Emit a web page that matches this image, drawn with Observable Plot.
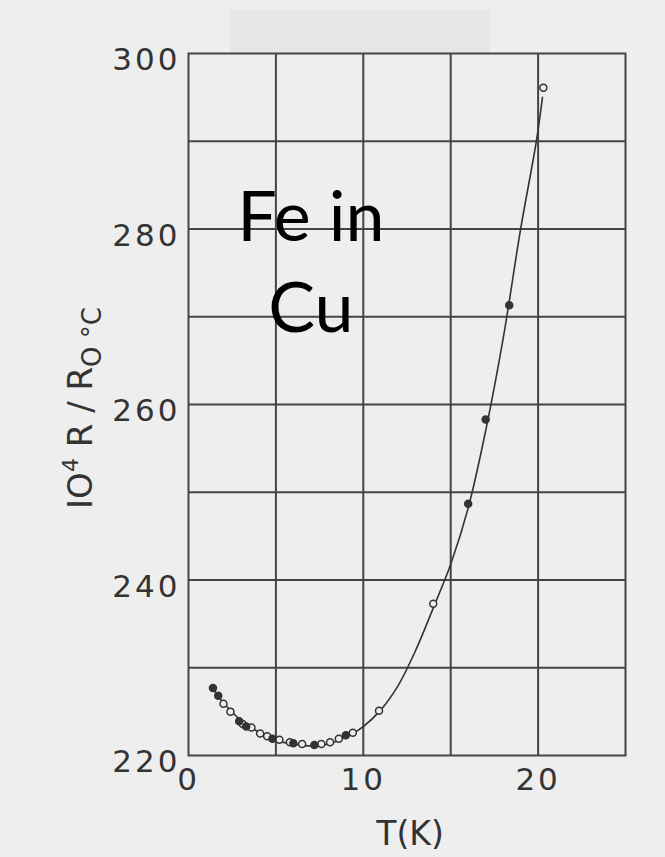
<!DOCTYPE html>
<html>
<head>
<meta charset="utf-8">
<script src="https://cdn.jsdelivr.net/npm/d3@7"></script>
<script src="https://cdn.jsdelivr.net/npm/@observablehq/plot@0.6"></script>
<style>
  html, body { margin: 0; padding: 0; background: #eeeeee; }
  #wrap { position: relative; width: 665px; height: 857px; overflow: hidden; }
  #band { position: absolute; left: 230px; top: 10px; width: 260px; height: 42px; background: #e6e6e6; }
  #chart { position: absolute; left: 0; top: 0; }
</style>
</head>
<body>
<div id="wrap"><div id="band"></div><div id="chart"></div></div>
<script>
// Measured points: temperature T (K) and 10^4 R/R(0 °C)
const openT = [2.0, 3.1, 4.1, 5.8, 6.5, 8.1, 9.4, 10.9, 14.0, 20.3, 2.4, 3.6, 4.5, 5.2, 7.6, 8.6];
const openR = [225.9, 223.6, 222.5, 221.5, 221.3, 221.5, 222.6, 225.1, 237.3, 296.1, 225.0, 223.2, 222.2, 221.8, 221.3, 221.9];
const filledT = [1.4, 1.7, 2.9, 3.3, 4.8, 6.0, 7.2, 9.0, 16.0, 17.0, 18.35];
const filledR = [227.7, 226.8, 223.9, 223.3, 221.9, 221.4, 221.2, 222.3, 248.7, 258.3, 271.3];

// Fitted curve
const curveT = [1.4, 2, 3, 4, 5, 6, 7, 8, 9, 10, 11, 12, 13, 14, 15, 16, 17, 18, 19, 19.9, 20.25];
const curveR = [227.6, 226.0, 224.0, 222.7, 221.7, 221.3, 221.1, 221.3, 222.1, 223.3, 225.2, 228.0, 232.0, 236.8, 241.8, 248.2, 257.0, 267.5, 280.0, 290.0, 295.0];

const xTicks = [0, 10, 20];
const yTicks = [220, 240, 260, 280, 300];
const xGrid = [5, 10, 15, 20];
const yGrid = [230, 240, 250, 260, 270, 280, 290];

const openPts = openT.map((t, i) => ({T: t, R: openR[i]}));
const filledPts = filledT.map((t, i) => ({T: t, R: filledR[i]}));
const curve = curveT.map((t, i) => ({T: t, R: curveR[i]}));

const ink = "#333";

const chart = Plot.plot({
  width: 665,
  height: 857,
  marginLeft: 188,
  marginRight: 40,
  marginTop: 53,
  marginBottom: 102,
  style: {background: "transparent", fontFamily: "DejaVu Sans", color: ink},
  x: {domain: [0, 25]},
  y: {domain: [220, 300]},
  marks: [
    Plot.ruleX(xGrid, {stroke: "#444", strokeWidth: 2}),
    Plot.ruleY(yGrid, {stroke: "#444", strokeWidth: 2}),
    Plot.frame({stroke: "#444", strokeWidth: 2}),
    Plot.axisX({ticks: xTicks, tickSize: 0, tickPadding: 12, fontSize: 31, label: null, tickFormat: d => String(d)}),
    Plot.axisY({ticks: yTicks, tickSize: 0, tickPadding: 8, fontSize: 31, dy: 7, label: null}),
    Plot.line(curve, {x: "T", y: "R", curve: "catmull-rom", stroke: ink, strokeWidth: 1.6}),
    Plot.dot(openPts, {x: "T", y: "R", r: 3.5, stroke: ink, strokeWidth: 1.5, fill: "#eee"}),
    Plot.dot(filledPts, {x: "T", y: "R", r: 3.5, stroke: ink, strokeWidth: 1.5, fill: ink}),
    Plot.text(["Fe in\nCu"], {x: 7.0, y: 276.8, fontSize: 70, lineHeight: 1.31, fill: "#000", fontFamily: "Lato", textAnchor: "middle"})
  ]
});

const svg = d3.select(chart);
svg.selectAll("g[aria-label='x-axis tick label'] text, g[aria-label='y-axis tick label'] text")
  .style("letter-spacing", "3px");

// x-axis title
svg.append("text")
  .attr("x", 410).attr("y", 845)
  .attr("text-anchor", "middle")
  .attr("font-family", "DejaVu Sans")
  .attr("font-size", 33)
  .attr("fill", ink)
  .text("T(K)");

// y-axis title with superscript and subscript
const yl = svg.append("text")
  .attr("transform", "translate(92,408) rotate(-90)")
  .attr("text-anchor", "middle")
  .attr("font-family", "DejaVu Sans")
  .attr("font-size", 34)
  .attr("fill", ink);
yl.append("tspan").text("IO");
yl.append("tspan").attr("font-size", 22).attr("dy", -14).text("4");
yl.append("tspan").attr("dy", 14).text(" R / R");
yl.append("tspan").attr("font-size", 26).attr("dy", 9).text("O °C");

document.getElementById("chart").appendChild(chart);
</script>
</body>
</html>
